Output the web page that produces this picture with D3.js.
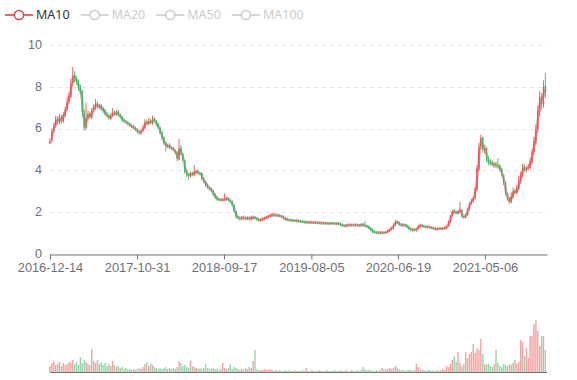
<!DOCTYPE html>
<html><head><meta charset="utf-8">
<script src="https://cdn.jsdelivr.net/npm/d3@7"></script>
<style>body{margin:0;background:#fff}svg{display:block}text{font-family:"Noto Sans",sans-serif}</style>
</head><body><svg id="c" width="577" height="380"></svg>
<script>
// weekly candles (each = ~5 trading days); MA10 (10 trading days) = 2 weekly closes
const firstDate = "2016-12-14";
const lastDate = "2021-12-21";
const tickLabels = ["2016-12-14","2017-10-31","2018-09-17","2019-08-05","2020-06-19","2021-05-06"];
const yTickValues = [0,2,4,6,8,10];
const legendNames = ["MA10","MA20","MA50","MA100"];
const open = [
5.30,5.42,5.88,6.12,6.48,6.28,6.58,6.33,6.62,6.92,
7.28,7.52,8.20,8.58,8.38,8.22,7.92,7.78,6.75,6.02,
6.52,6.73,6.52,6.88,6.98,7.22,7.02,7.12,6.97,6.88,
6.68,6.62,6.48,6.62,6.78,6.68,6.82,6.63,6.57,6.42,
6.33,6.28,6.24,6.13,6.12,6.03,5.97,5.83,5.78,5.90,
6.02,6.32,6.22,6.38,6.25,6.48,6.36,6.22,6.03,5.82,
5.57,5.32,5.12,5.22,5.08,5.07,4.96,4.87,4.52,5.08,
4.78,4.48,3.97,3.78,3.73,3.88,3.78,3.90,3.97,3.86,
3.87,3.62,3.47,3.32,3.18,3.12,3.03,2.87,2.72,2.63,
2.61,2.56,2.59,2.60,2.68,2.59,2.52,2.33,2.03,1.79,
1.73,1.69,1.75,1.71,1.69,1.74,1.67,1.73,1.77,1.71,
1.67,1.61,1.65,1.67,1.73,1.75,1.81,1.84,1.89,1.87,
1.83,1.86,1.81,1.79,1.71,1.67,1.63,1.63,1.62,1.61,
1.57,1.60,1.57,1.56,1.54,1.51,1.54,1.50,1.53,1.49,
1.52,1.48,1.51,1.47,1.50,1.46,1.49,1.47,1.45,1.49,
1.47,1.44,1.48,1.45,1.41,1.37,1.33,1.36,1.41,1.37,
1.40,1.37,1.41,1.38,1.35,1.43,1.39,1.35,1.31,1.25,
1.16,1.07,1.04,1.01,1.05,1.00,1.04,1.01,1.06,1.11,
1.19,1.24,1.41,1.56,1.51,1.41,1.37,1.41,1.38,1.31,
1.23,1.15,1.19,1.14,1.21,1.31,1.39,1.34,1.29,1.32,
1.30,1.28,1.26,1.23,1.18,1.21,1.23,1.20,1.22,1.25,
1.33,1.53,1.82,2.07,2.02,1.93,2.03,2.12,1.80,1.73,
1.88,2.13,2.42,2.53,2.68,3.08,4.05,5.15,5.58,4.95,
5.08,4.52,4.42,4.38,4.26,4.32,4.22,4.23,4.08,3.78,
3.42,2.88,2.68,2.48,2.72,3.04,2.92,3.12,3.48,3.78,
4.18,4.02,4.13,4.12,4.43,4.88,5.35,5.98,6.80,7.55,
7.15,8.05];
const close = [
5.40,5.85,6.10,6.45,6.30,6.55,6.35,6.65,6.90,7.25,
7.55,8.15,8.55,8.40,8.25,7.95,7.80,6.80,6.05,6.50,
6.70,6.55,6.85,7.00,7.20,7.05,7.10,6.95,6.85,6.70,
6.60,6.50,6.60,6.75,6.70,6.80,6.65,6.55,6.40,6.35,
6.30,6.22,6.15,6.10,6.05,5.95,5.85,5.80,5.88,6.05,
6.30,6.25,6.35,6.28,6.45,6.38,6.20,6.05,5.80,5.55,
5.30,5.15,5.20,5.10,5.05,4.98,4.85,4.55,5.05,4.80,
4.50,3.95,3.80,3.75,3.85,3.80,3.92,3.95,3.88,3.85,
3.60,3.45,3.30,3.20,3.10,3.05,2.85,2.70,2.62,2.60,
2.58,2.60,2.62,2.66,2.58,2.50,2.35,2.05,1.78,1.72,
1.70,1.74,1.72,1.70,1.73,1.68,1.74,1.76,1.72,1.66,
1.62,1.64,1.68,1.72,1.76,1.80,1.85,1.88,1.86,1.84,
1.85,1.82,1.78,1.72,1.66,1.64,1.62,1.61,1.60,1.58,
1.59,1.57,1.55,1.54,1.52,1.53,1.51,1.52,1.50,1.51,
1.49,1.50,1.48,1.49,1.47,1.48,1.47,1.46,1.48,1.47,
1.45,1.47,1.44,1.40,1.36,1.34,1.37,1.40,1.38,1.39,
1.38,1.40,1.37,1.36,1.42,1.38,1.34,1.30,1.24,1.15,
1.06,1.03,1.02,1.04,1.01,1.03,1.02,1.05,1.12,1.18,
1.25,1.40,1.55,1.50,1.40,1.38,1.40,1.37,1.30,1.22,
1.16,1.18,1.15,1.20,1.32,1.38,1.33,1.30,1.31,1.29,
1.27,1.25,1.22,1.19,1.20,1.22,1.21,1.23,1.26,1.32,
1.55,1.80,2.05,2.00,1.95,2.05,2.10,1.78,1.75,1.90,
2.15,2.40,2.55,2.65,3.10,4.10,5.10,5.55,5.00,5.05,
4.55,4.40,4.35,4.30,4.28,4.25,4.20,4.05,3.80,3.40,
2.90,2.65,2.50,2.75,3.00,2.95,3.15,3.50,3.80,4.15,
4.05,4.10,4.15,4.45,4.85,5.40,5.95,6.85,7.50,7.20,
8.00,7.75];
const low = [
5.25,5.35,5.80,6.05,6.18,6.20,6.25,6.28,6.55,6.85,
7.20,7.45,8.05,8.20,8.10,7.80,7.62,6.55,5.90,5.95,
6.40,6.45,6.45,6.78,6.90,6.95,6.92,6.85,6.75,6.62,
6.52,6.42,6.40,6.55,6.60,6.60,6.58,6.48,6.32,6.28,
6.22,6.15,6.08,6.02,5.98,5.88,5.78,5.70,5.72,5.85,
5.98,6.15,6.15,6.20,6.18,6.30,6.12,5.98,5.72,5.45,
5.22,4.90,5.05,5.02,4.98,4.92,4.78,4.45,4.48,4.72,
4.42,3.85,3.68,3.55,3.65,3.72,3.72,3.82,3.80,3.78,
3.52,3.38,3.22,3.12,3.02,2.95,2.78,2.62,2.55,2.54,
2.52,2.50,2.54,2.55,2.52,2.45,2.28,1.98,1.70,1.66,
1.61,1.61,1.63,1.62,1.61,1.59,1.59,1.65,1.64,1.57,
1.54,1.54,1.58,1.61,1.67,1.69,1.74,1.77,1.79,1.77,
1.77,1.75,1.71,1.65,1.59,1.57,1.56,1.55,1.54,1.52,
1.51,1.51,1.49,1.48,1.46,1.45,1.45,1.44,1.44,1.43,
1.43,1.42,1.42,1.41,1.41,1.40,1.41,1.40,1.39,1.41,
1.38,1.39,1.37,1.34,1.30,1.28,1.27,1.30,1.32,1.31,
1.32,1.31,1.31,1.30,1.29,1.32,1.28,1.24,1.18,1.09,
1.00,0.97,0.95,0.94,0.95,0.93,0.96,0.95,1.00,1.05,
1.13,1.18,1.34,1.43,1.34,1.32,1.31,1.31,1.24,1.16,
1.09,1.07,1.08,1.07,1.15,1.25,1.27,1.24,1.23,1.23,
1.21,1.19,1.16,1.13,1.12,1.15,1.15,1.14,1.16,1.19,
1.30,1.48,1.76,1.94,1.90,1.88,1.98,1.72,1.70,1.70,
1.84,2.08,2.35,2.46,2.60,3.00,3.95,5.00,4.85,4.80,
4.40,4.25,4.22,4.18,4.12,4.10,4.08,3.95,3.70,3.30,
2.80,2.55,2.38,2.42,2.65,2.85,2.85,3.05,3.35,3.65,
3.92,3.90,4.00,4.05,4.30,4.75,5.20,5.80,6.60,6.90,
7.00,7.45];
const high = [
5.55,6.00,6.28,6.62,6.60,6.70,6.66,6.78,7.05,7.48,
7.72,8.40,8.96,8.75,8.50,8.35,8.10,7.85,6.90,7.25,
6.85,6.82,7.00,7.15,7.42,7.30,7.20,7.18,7.05,6.95,
6.80,6.70,6.72,6.98,6.86,6.90,6.88,6.72,6.62,6.50,
6.42,6.35,6.30,6.20,6.18,6.10,6.02,5.92,5.96,6.15,
6.45,6.42,6.50,6.46,6.62,6.55,6.42,6.28,6.10,5.88,
5.62,5.38,5.28,5.30,5.15,5.12,5.02,4.92,5.52,5.20,
4.85,4.52,4.05,3.88,3.95,3.95,4.26,4.02,4.05,3.92,
3.92,3.68,3.52,3.38,3.24,3.18,3.08,2.92,2.78,2.68,
2.66,2.68,2.90,2.74,2.72,2.63,2.55,2.38,2.06,1.84,
1.80,1.83,1.84,1.79,1.81,1.80,1.83,1.85,1.82,1.78,
1.73,1.71,1.75,1.79,1.83,1.87,1.93,1.98,1.97,1.94,
1.93,1.92,1.87,1.85,1.77,1.73,1.69,1.69,1.68,1.66,
1.67,1.66,1.64,1.62,1.60,1.61,1.59,1.59,1.58,1.57,
1.57,1.56,1.56,1.55,1.55,1.54,1.54,1.53,1.53,1.54,
1.53,1.52,1.53,1.50,1.46,1.42,1.43,1.46,1.46,1.45,
1.45,1.46,1.46,1.43,1.48,1.49,1.57,1.41,1.36,1.30,
1.21,1.12,1.09,1.09,1.10,1.08,1.09,1.10,1.17,1.23,
1.31,1.47,1.63,1.61,1.56,1.47,1.46,1.46,1.43,1.36,
1.28,1.23,1.24,1.25,1.38,1.45,1.44,1.39,1.36,1.37,
1.35,1.33,1.31,1.28,1.25,1.27,1.28,1.28,1.31,1.38,
1.60,1.86,2.12,2.15,2.06,2.10,2.50,2.16,1.84,1.95,
2.22,2.48,2.65,2.74,3.20,4.25,5.30,5.72,5.62,5.20,
5.12,4.65,4.55,4.48,4.40,4.42,4.58,4.30,4.12,3.82,
3.48,2.95,2.72,2.95,3.18,3.12,3.30,3.75,3.95,4.32,
4.30,4.20,4.30,4.60,5.02,5.60,6.20,7.10,7.80,7.70,
8.30,8.65];
const volume = [
6,9,11,7,8,10,6,9,7,8,
10,9,12,8,10,7,15,9,12,10,
8,7,23,11,9,12,8,10,7,9,
6,8,6,11,7,5,6,4,5,3,
4,3,3,2,3,2,3,4,3,5,
8,10,6,8,7,5,4,3,4,3,
4,5,3,4,3,4,3,5,11,9,
6,7,5,4,11,6,5,4,3,4,
3,4,8,4,3,3,4,3,3,2,
3,9,4,3,4,8,3,5,4,3,
2,3,2,4,3,5,4,11,22,3,
2,2,2,3,2,2,3,2,1,2,
1,2,1,1,2,1,2,1,1,2,
1,1,1,2,1,4,1,1,2,1,
1,1,2,1,1,1,2,1,1,1,
2,1,1,2,1,1,2,1,1,2,
1,1,2,1,2,5,3,2,2,2,
1,1,2,1,2,4,3,2,3,4,
3,4,6,4,3,2,2,1,2,2,
2,1,2,8,5,3,2,2,1,2,
2,1,2,1,2,1,2,3,2,6,
5,8,12,16,10,20,9,6,8,20,
14,18,20,28,19,24,22,33,18,8,
7,8,6,5,8,22,9,6,5,8,
7,6,8,7,9,12,8,10,32,30,
16,24,14,36,36,48,52,41,26,36,
36,22];

const parse = d3.timeParse("%Y-%m-%d");
const fmt = d3.timeFormat("%Y-%m-%d");
const dates = close.map((_, i) => d3.timeDay.offset(parse(firstDate), 7 * i));
const data = dates.map((d, i) => ({d, o: open[i], c: close[i], l: low[i], h: high[i], v: volume[i]}));

const UP = "#eb5454", DOWN = "#47b262", MA = "#d9464a", AX = "#6E7079";
const AXFONT = '"Liberation Sans",Arial,sans-serif';
const svg = d3.select("#c");
const x = d3.scaleTime().domain([parse(firstDate), parse(lastDate)]).range([50, 547]);
const y = d3.scaleLinear().domain([0, 10]).range([254, 45]);
const yv = d3.scaleLinear().domain([0, 60]).range([372, 312]);

// grid lines
svg.append("g").selectAll("line").data(yTickValues.filter(v => v > 0)).join("line")
  .attr("x1", 50).attr("x2", 547)
  .attr("y1", d => Math.round(y(d)) + 0.5).attr("y2", d => Math.round(y(d)) + 0.5)
  .attr("stroke", "#E0E6F1").attr("stroke-dasharray", "4,4");
// y labels
svg.append("g").selectAll("text").data(yTickValues).join("text")
  .attr("x", 42).attr("y", d => y(d) - 0.5).attr("dy", "0.35em")
  .attr("text-anchor", "end").attr("fill", AX)
  .style("font-family", AXFONT).style("font-size", "12.5px").text(d => d);

// x axis
const xa = svg.append("g").attr("transform", "translate(0,254.5)")
  .call(d3.axisBottom(x).tickValues(tickLabels.map(parse)).tickFormat(fmt).tickSize(5).tickPadding(3).tickSizeOuter(0));
xa.select(".domain").attr("stroke", AX);
xa.selectAll(".tick line").attr("stroke", AX);
xa.selectAll(".tick text").attr("fill", AX).style("font-size", "12.8px").style("font-family", AXFONT);

// volume bars
const bw = 1.4;
svg.append("g").selectAll("rect").data(data).join("rect")
  .attr("x", d => x(d.d) - bw / 2).attr("width", bw)
  .attr("y", d => yv(d.v)).attr("height", d => yv(0) - yv(d.v))
  .attr("fill", d => d.c >= d.o ? UP : DOWN).attr("fill-opacity", 0.55);
svg.append("line").attr("x1", 50).attr("x2", 547).attr("y1", 372.5).attr("y2", 372.5).attr("stroke", "#555").attr("stroke-opacity", 0.8);

// MA10 line (10 trading days = 2 weekly candles), drawn beneath candles
const ma = data.map((d, i) => i < 1 ? null : {d: d.d, v: (close[i] + close[i - 1]) / 2}).filter(Boolean);
svg.append("path").datum(ma)
  .attr("d", d3.line().x(d => x(d.d)).y(d => y(d.v)))
  .attr("fill", "none").attr("stroke", MA).attr("stroke-width", 2.5).attr("stroke-opacity", 0.45);

// candles
const cg = svg.append("g");
cg.selectAll("line").data(data).join("line")
  .attr("x1", d => x(d.d)).attr("x2", d => x(d.d))
  .attr("y1", d => y(d.h)).attr("y2", d => y(d.l))
  .attr("stroke", d => d.c >= d.o ? UP : DOWN).attr("stroke-width", 0.9);
cg.selectAll("rect").data(data).join("rect")
  .attr("x", d => x(d.d) - bw / 2).attr("width", bw)
  .attr("y", d => y(Math.max(d.o, d.c)))
  .attr("height", d => Math.max(0.8, Math.abs(y(d.o) - y(d.c))))
  .attr("fill", d => d.c >= d.o ? UP : DOWN);

// legend
let lx = 5;
const lg = svg.append("g");
legendNames.forEach((name, i) => {
  const col = i === 0 ? MA : "#ccc";
  const g = lg.append("g");
  g.append("line").attr("x1", lx).attr("x2", lx + 28).attr("y1", 15).attr("y2", 15).attr("stroke", col).attr("stroke-width", 1.6);
  g.append("circle").attr("cx", lx + 14).attr("cy", 15).attr("r", 4.6).attr("fill", "#fff").attr("stroke", col).attr("stroke-width", 1.5);
  const t = g.append("text").attr("x", lx + 31).attr("y", 15).attr("dy", "0.35em")
    .attr("fill", i === 0 ? "#333" : "#ccc").style("font-size", "12.5px").text(name);
  lx += 31 + t.node().getComputedTextLength() + 11;
});
</script></body></html>
